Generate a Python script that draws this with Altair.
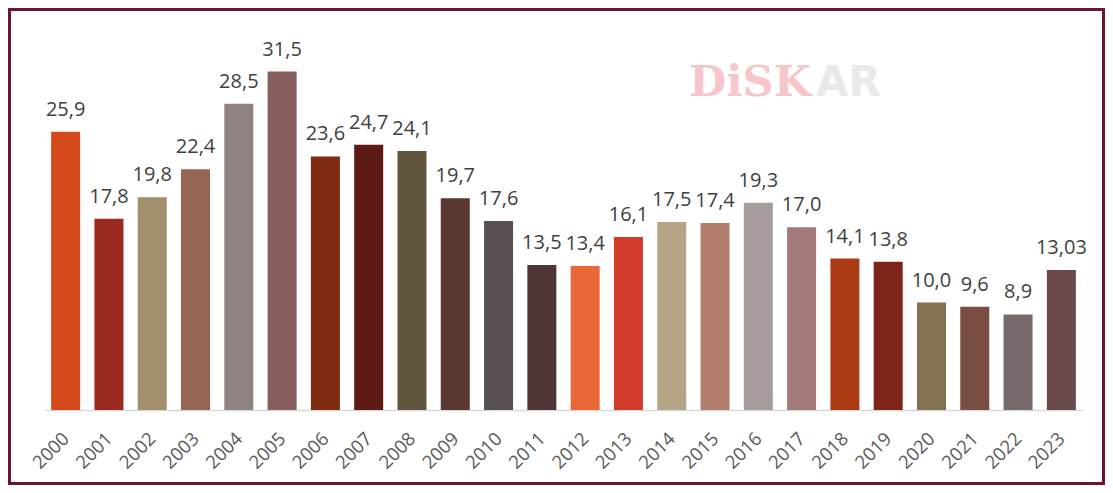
import altair as alt
import pandas as pd

years = [str(y) for y in range(2000, 2024)]
values = [25.9, 17.8, 19.8, 22.4, 28.5, 31.5, 23.6, 24.7, 24.1, 19.7, 17.6, 13.5,
          13.4, 16.1, 17.5, 17.4, 19.3, 17.0, 14.1, 13.8, 10.0, 9.6, 8.9, 13.03]
labels = ["25,9", "17,8", "19,8", "22,4", "28,5", "31,5", "23,6", "24,7", "24,1",
          "19,7", "17,6", "13,5", "13,4", "16,1", "17,5", "17,4", "19,3", "17,0",
          "14,1", "13,8", "10,0", "9,6", "8,9", "13,03"]
palette = ["#D4491A", "#9B2B20", "#A38E6B", "#976553", "#8F8382", "#865E5C",
           "#7E2B10", "#5E1A14", "#62553D", "#5A3A30", "#585051", "#4F3535",
           "#EA6838", "#D33B2B", "#B6A688", "#B27E6E", "#A69C9B", "#A37A7A",
           "#AB3B14", "#7E241B", "#837152", "#7A4E42", "#766A6A", "#6A4A4C"]

df = pd.DataFrame({"year": years, "value": values, "label": labels})

W, H = 1039, 376
PAD = {"left": 36, "top": 26, "right": 22, "bottom": 75}

x = alt.X("year:N", sort=years,
          scale=alt.Scale(paddingInner=0.33, paddingOuter=0.165),
          axis=alt.Axis(title=None, labelAngle=-45, labelFontSize=18.5,
                        labelColor="#595959", labelFont="Open Sans",
                        domainColor="#d9d9d9", domainWidth=1.5, ticks=False,
                        labelPadding=19, labelOffset=-6))
y = alt.Y("value:Q", scale=alt.Scale(domain=[0, 35], nice=False), axis=None)

bars = alt.Chart(df).mark_bar().encode(
    x=x, y=y,
    color=alt.Color("year:N", sort=years,
                    scale=alt.Scale(domain=years, range=palette), legend=None),
)
text = alt.Chart(df).mark_text(
    dy=-16, baseline="alphabetic", fontSize=20, font="Open Sans", color="#404040"
).encode(x=x, y=y, text="label:N")

one = alt.Data(values=[{"k": 1}])
border = alt.Chart(one).mark_rect(
    fill="transparent", stroke="#6d1435", strokeWidth=3
).encode(
    x=alt.value(-PAD["left"] + 1.5), x2=alt.value(W + PAD["right"] - 1.5),
    y=alt.value(-PAD["top"] + 1.5), y2=alt.value(H + PAD["bottom"] - 1.5),
)
logo1 = alt.Chart(one).mark_text(
    text="DiSK", font="DejaVu Serif", fontWeight="bold", fontSize=43,
    color="#f6c6cb", align="left", baseline="alphabetic"
).encode(x=alt.value(645), y=alt.value(62))
logo2 = alt.Chart(one).mark_text(
    text="AR", font="DejaVu Sans", fontWeight="bold", fontSize=42,
    color="#e9e9e9", align="left", baseline="alphabetic"
).encode(x=alt.value(772), y=alt.value(62))

chart = alt.layer(logo1, logo2, bars, text, border).properties(
    width=W, height=H, padding=PAD,
    autosize=alt.AutoSizeParams(type="none"),
    background="white",
).configure_view(stroke=None)

chart.save("out.html", embed_options={"renderer": "svg", "actions": False})
